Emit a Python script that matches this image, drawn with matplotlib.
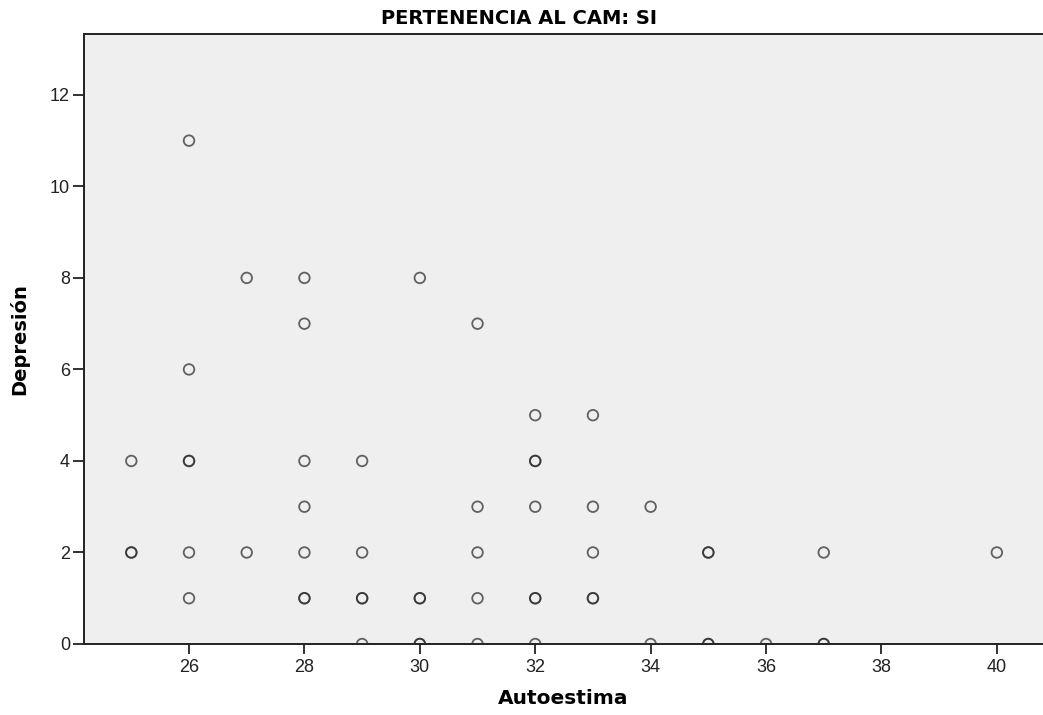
import matplotlib.pyplot as plt

# Autoestima vs Depresión, CAM members (repeated pairs are listed twice)
autoestima = [25, 25, 25,
              26, 26, 26, 26, 26, 26,
              27, 27,
              28, 28, 28, 28, 28, 28, 28,
              29, 29, 29, 29, 29,
              30, 30, 30, 30, 30,
              31, 31, 31, 31, 31,
              32, 32, 32, 32, 32, 32, 32,
              33, 33, 33, 33, 33,
              34, 34,
              35, 35, 35, 35,
              36,
              37, 37, 37,
              40]
depresion = [4, 2, 2,
             11, 6, 4, 4, 2, 1,
             8, 2,
             8, 7, 4, 3, 2, 1, 1,
             4, 2, 1, 1, 0,
             8, 1, 1, 0, 0,
             7, 3, 2, 1, 0,
             5, 4, 4, 3, 1, 1, 0,
             5, 3, 2, 1, 1,
             3, 0,
             2, 2, 0, 0,
             0,
             2, 0, 0,
             2]

xticks = [26, 28, 30, 32, 34, 36, 38, 40]
yticks = [0, 2, 4, 6, 8, 10, 12]

fig = plt.figure(figsize=(10.43, 7.15), dpi=100)
ax = fig.add_axes([84 / 1043, 1 - 644 / 715, 1 - 84 / 1043, (644 - 34) / 715])
ax.set_facecolor("#efefef")

ax.scatter(autoestima, depresion, s=58, facecolors="none",
           edgecolors="#2a2a2a", linewidths=1.3, alpha=0.72, zorder=3)

ax.set_xlim(24.18, 40.80)
ax.set_ylim(0, 13.33)
ax.set_xticks(xticks)
ax.set_yticks(yticks)
ax.tick_params(axis="both", direction="out", width=1.3,
               labelsize=13, colors="#222222")
ax.tick_params(axis="x", length=7, pad=4)
ax.tick_params(axis="y", length=8, pad=2)
for lab in ax.get_xticklabels() + ax.get_yticklabels():
    lab.set_family("Liberation Sans")

ax.spines["right"].set_visible(False)
for side in ("left", "bottom", "top"):
    ax.spines[side].set_linewidth(1.4)
    ax.spines[side].set_color("#222222")

ax.set_xlabel("Autoestima", fontsize=14.5, fontweight="bold")
ax.xaxis.set_label_coords(0.5, -(698 - 644) / 610, transform=ax.transAxes)
ax.xaxis.label.set_va("center")
ax.set_ylabel("Depresión", fontsize=14, fontweight="bold")
ax.yaxis.set_label_coords(-(84 - 19) / 959, 0.5, transform=ax.transAxes)
ax.yaxis.label.set_va("center")

fig.text(519 / 1043, 1 - 18 / 715, "PERTENENCIA AL CAM: SI", ha="center",
         va="center", fontsize=14, fontweight="bold")

fig.savefig("out.png", dpi=100)
